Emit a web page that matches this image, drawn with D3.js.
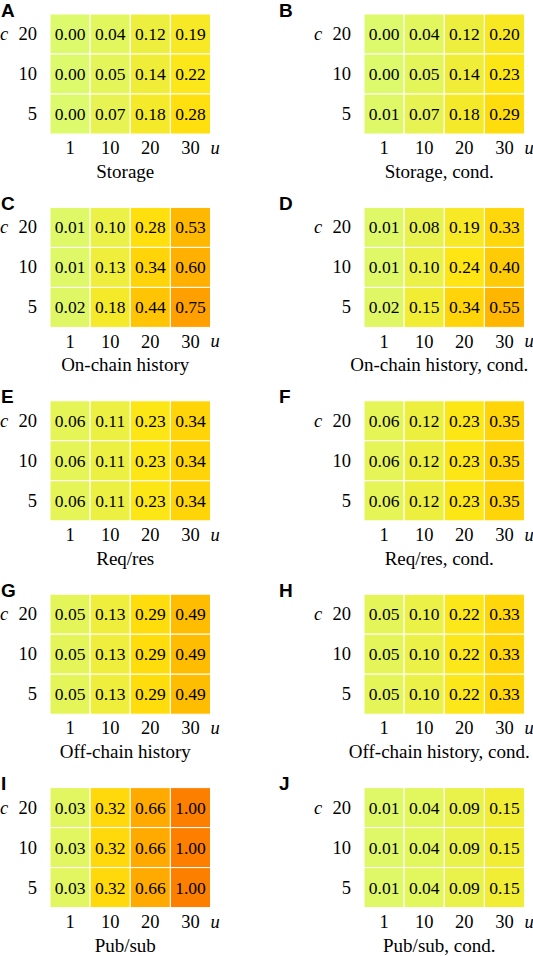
<!DOCTYPE html>
<html>
<head>
<meta charset="utf-8">
<script src="https://cdn.jsdelivr.net/npm/d3@7"></script>
<style>
  body { margin: 0; background: #fff; }
  svg text { font-family: "Liberation Serif", "Times New Roman", serif; fill: #000; }
  svg text.letter { font-family: "Liberation Sans", Arial, sans-serif; font-weight: bold; font-size: 19px; }
</style>
</head>
<body>
<div id="chart"></div>
<script>
var uTicks = ['1', '10', '20', '30'];
var cTicks = ['20', '10', '5'];

// rows: c = 20, 10, 5 ; cols: u = 1, 10, 20, 30
var storage      = [[0.00, 0.04, 0.12, 0.19], [0.00, 0.05, 0.14, 0.22], [0.00, 0.07, 0.18, 0.28]];
var storageCond  = [[0.00, 0.04, 0.12, 0.20], [0.00, 0.05, 0.14, 0.23], [0.01, 0.07, 0.18, 0.29]];
var onChain      = [[0.01, 0.10, 0.28, 0.53], [0.01, 0.13, 0.34, 0.60], [0.02, 0.18, 0.44, 0.75]];
var onChainCond  = [[0.01, 0.08, 0.19, 0.33], [0.01, 0.10, 0.24, 0.40], [0.02, 0.15, 0.34, 0.55]];
var reqRes       = [[0.06, 0.11, 0.23, 0.34], [0.06, 0.11, 0.23, 0.34], [0.06, 0.11, 0.23, 0.34]];
var reqResCond   = [[0.06, 0.12, 0.23, 0.35], [0.06, 0.12, 0.23, 0.35], [0.06, 0.12, 0.23, 0.35]];
var offChain     = [[0.05, 0.13, 0.29, 0.49], [0.05, 0.13, 0.29, 0.49], [0.05, 0.13, 0.29, 0.49]];
var offChainCond = [[0.05, 0.10, 0.22, 0.33], [0.05, 0.10, 0.22, 0.33], [0.05, 0.10, 0.22, 0.33]];
var pubSub       = [[0.03, 0.32, 0.66, 1.00], [0.03, 0.32, 0.66, 1.00], [0.03, 0.32, 0.66, 1.00]];
var pubSubCond   = [[0.01, 0.04, 0.09, 0.15], [0.01, 0.04, 0.09, 0.15], [0.01, 0.04, 0.09, 0.15]];

var letters = ['A', 'B', 'C', 'D', 'E', 'F', 'G', 'H', 'I', 'J'];
var titles = ['Storage', 'Storage, cond.', 'On-chain history', 'On-chain history, cond.',
  'Req/res', 'Req/res, cond.', 'Off-chain history', 'Off-chain history, cond.',
  'Pub/sub', 'Pub/sub, cond.'];
var matrices = [storage, storageCond, onChain, onChainCond, reqRes, reqResCond,
  offChain, offChainCond, pubSub, pubSubCond];

(function(){
  var width = 533, height = 956;
  var cellW = 160.5, cellH = 120;
  var serif = '"Liberation Serif", "Times New Roman", serif';

  var svg = d3.select('#chart').append('svg')
    .attr('width', width)
    .attr('height', height);

  // Wistia-like colormap
  var color = d3.scaleLinear()
    .domain([0, 0.25, 0.5, 0.75, 1])
    .range(['#ddf96c', '#ffe40f', '#ffbb00', '#ffa000', '#fc7f00'])
    .interpolate(d3.interpolateRgb);

  var x = d3.scaleBand().domain(uTicks).range([0, cellW]);
  var y = d3.scaleBand().domain(cTicks).range([0, cellH]);

  matrices.forEach(function(m, i){
    var col = i % 2, row = Math.floor(i / 2);
    var x0 = col === 0 ? 50 : 364;
    var y0 = 14 + row * 193.4;

    svg.append('text')
      .attr('class', 'letter')
      .attr('x', col === 0 ? 1 : 279)
      .attr('y', y0 + 2.5)
      .text(letters[i]);

    var g = svg.append('g').attr('transform', 'translate(' + x0 + ',' + y0 + ')');

    var cells = [];
    m.forEach(function(r, ri){
      r.forEach(function(v, ci){
        cells.push({c: cTicks[ri], u: uTicks[ci], v: v});
      });
    });

    g.selectAll('rect').data(cells).enter().append('rect')
      .attr('x', function(d){ return x(d.u) })
      .attr('y', function(d){ return y(d.c) })
      .attr('width', x.bandwidth())
      .attr('height', y.bandwidth())
      .attr('fill', function(d){ return color(d.v) })
      .attr('stroke', '#fff')
      .attr('stroke-width', 1);

    g.selectAll('.val').data(cells).enter().append('text')
      .attr('class', 'val')
      .attr('x', function(d){ return x(d.u) + x.bandwidth() / 2 })
      .attr('y', function(d){ return y(d.c) + y.bandwidth() / 2 })
      .attr('dy', '0.34em')
      .attr('text-anchor', 'middle')
      .style('font-family', serif)
      .style('font-size', '17.5px')
      .text(function(d){ return d.v.toFixed(2) });

    var xa = g.append('g')
      .attr('transform', 'translate(0,' + cellH + ')')
      .call(d3.axisBottom(x).tickSize(0).tickPadding(7));
    xa.select('.domain').remove();
    xa.selectAll('text').style('font-family', serif).style('font-size', '18.5px');

    var ya = g.append('g')
      .call(d3.axisLeft(y).tickSize(0).tickPadding(13));
    ya.select('.domain').remove();
    ya.selectAll('text').style('font-family', serif).style('font-size', '18.5px');

    g.append('text')
      .attr('x', -50)
      .attr('y', y(cTicks[0]) + y.bandwidth() / 2)
      .attr('dy', '0.32em')
      .style('font-family', serif)
      .style('font-style', 'italic')
      .style('font-size', '18.5px')
      .text('c');

    g.append('text')
      .attr('x', cellW)
      .attr('y', cellH + 20)
      .style('font-family', serif)
      .style('font-style', 'italic')
      .style('font-size', '18.5px')
      .text('u');

    g.append('text')
      .attr('x', cellW / 2 - 5)
      .attr('y', cellH + 44)
      .attr('text-anchor', 'middle')
      .style('font-family', serif)
      .style('font-size', '19px')
      .text(titles[i]);
  });
})()
</script>
</body>
</html>
